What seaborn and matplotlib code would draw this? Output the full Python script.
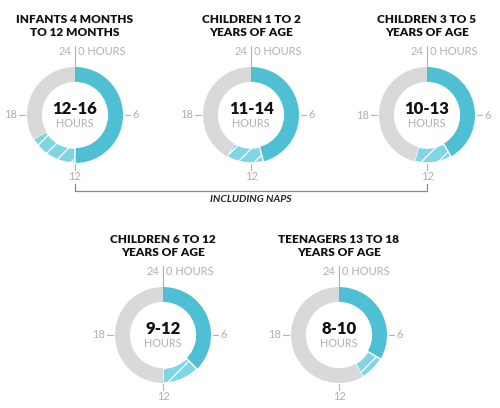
import matplotlib
matplotlib.use("Agg")
import matplotlib.pyplot as plt
import seaborn as sns

# ---- data ----
titles = ["INFANTS 4 MONTHS\nTO 12 MONTHS",
          "CHILDREN 1 TO 2\nYEARS OF AGE",
          "CHILDREN 3 TO 5\nYEARS OF AGE",
          "CHILDREN 6 TO 12\nYEARS OF AGE",
          "TEENAGERS 13 TO 18\nYEARS OF AGE"]
min_hours = [12, 11, 10, 9, 8]
max_hours = [16, 14, 13, 12, 10]
total_hours = 24
clock_labels = ["24", "0 HOURS", "6", "12", "18"]
bracket_label = "INCLUDING NAPS"

# ---- layout (pixels) ----
W, H = 500, 408
centers = [(75, 115), (251, 115), (427, 115), (163, 335), (339, 335)]
R = 48.0
S = 170.0

sns.set_theme(style="white")
plt.rcParams["font.family"] = ["Lato", "DejaVu Sans"]
plt.rcParams["hatch.color"] = "white"
plt.rcParams["hatch.linewidth"] = 0.9

teal = "#4fbfd3"
light = "#80d4e4"
grey = "#d9d9d9"
tick_col = "#b0b0b0"
title_col = "#111111"

fig = plt.figure(figsize=(W / 100, H / 100), dpi=100)
fig.patch.set_facecolor("white")

lim = (S / 2) / R
for title, lo, hi, (cx, cy) in zip(titles, min_hours, max_hours, centers):
    ax = fig.add_axes([(cx - S / 2) / W, (H - cy - S / 2) / H, S / W, S / H])
    vals = [lo, hi - lo, total_hours - hi]
    wedges, _ = ax.pie(vals, colors=[teal, light, grey], startangle=90,
                       counterclock=False, radius=1.0,
                       wedgeprops=dict(width=0.31, linewidth=0))
    wedges[1].set_hatch("//")
    wedges[1].set_edgecolor("white")
    wedges[1].set_linewidth(1.0)
    ax.set_xlim(-lim, lim)
    ax.set_ylim(-lim, lim)
    ax.set_aspect("equal")
    ax.axis("off")

    # clock ticks
    ax.plot([0, 0], [1.0, 1.43], color=tick_col, lw=0.8, clip_on=False)
    ax.plot([0, 0], [-1.02, -1.14], color=tick_col, lw=0.8, clip_on=False)
    ax.plot([-1.04, -1.16], [0, 0], color=tick_col, lw=0.8, clip_on=False)
    ax.plot([1.04, 1.14], [0, 0], color=tick_col, lw=0.8, clip_on=False)
    ax.text(-0.07, 1.32, clock_labels[0], ha="right", va="center",
            fontsize=8, color=tick_col)
    ax.text(0.07, 1.32, clock_labels[1], ha="left", va="center",
            fontsize=8, color=tick_col)
    ax.text(1.2, 0, clock_labels[2], ha="left", va="center",
            fontsize=8, color=tick_col)
    ax.text(0, -1.29, clock_labels[3], ha="center", va="center",
            fontsize=8, color=tick_col)
    ax.text(-1.21, 0, clock_labels[4], ha="right", va="center",
            fontsize=8, color=tick_col)

    # center text
    ax.text(0, 0.13, f"{lo}-{hi}", ha="center", va="center",
            fontsize=12, fontweight="heavy", color=title_col)
    ax.text(0, -0.18, "HOURS", ha="center", va="center",
            fontsize=7.8, color=tick_col)

    # title
    fig.text(cx / W, 1 - (cy - 89) / H, title, ha="center", va="center",
             fontsize=8.6, fontweight="heavy", color=title_col, linespacing=1.3)

# bracket for "including naps"
ov = fig.add_axes([0, 0, 1, 1], facecolor="none")
ov.set_xlim(0, W)
ov.set_ylim(H, 0)
ov.axis("off")
x0, x1 = centers[0][0], centers[2][0]
yb = 191
ov.plot([x0, x0, x1, x1], [184, yb, yb, 184], color="#888888", lw=0.9)
ov.text((x0 + x1) / 2, 200, bracket_label, ha="center", va="center",
        fontsize=7.5, fontweight="bold", fontstyle="italic", color="#222222")

fig.savefig("out.png", dpi=100, facecolor="white")
